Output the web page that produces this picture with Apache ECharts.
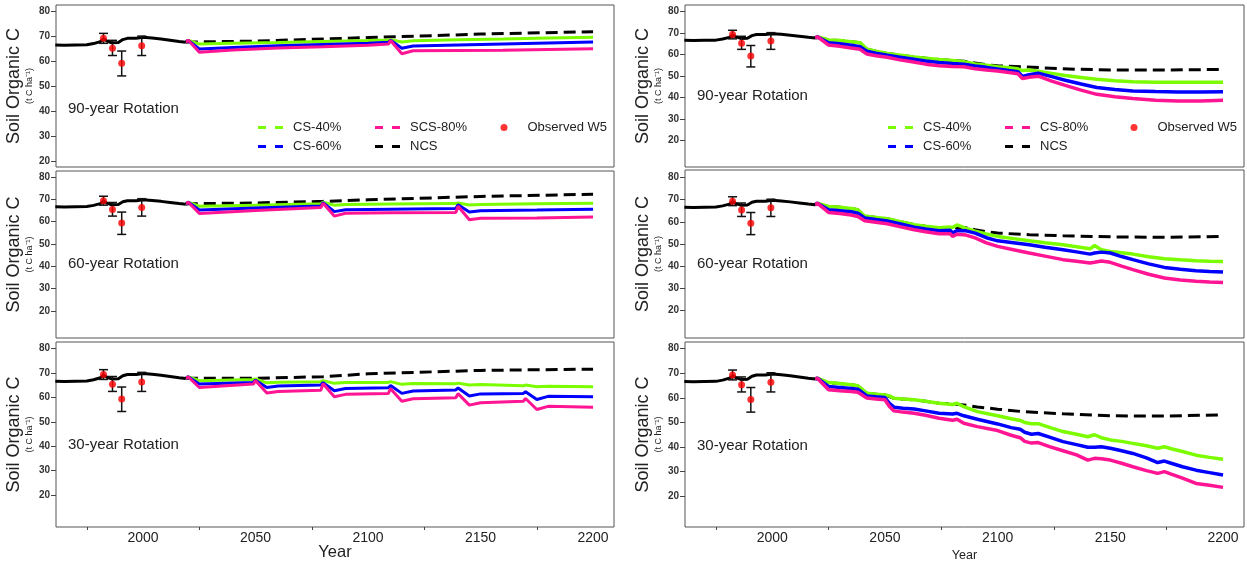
<!DOCTYPE html>
<html><head><meta charset="utf-8">
<script src="https://cdn.jsdelivr.net/npm/echarts@6/dist/echarts.min.js"></script>
<style>html,body{margin:0;padding:0;background:#fff}#c{width:1247px;height:565px}</style>
</head><body><div id="c"></div>
<script>
// ---------- tick labels ----------
const yTicks = [20, 30, 40, 50, 60, 70, 80];
const xLabelTicks = [2000, 2050, 2100, 2150, 2200];
const xMinorTicks = [1975, 2025, 2075, 2125, 2175];

// ---------- historical simulation (shared) ----------
const histYears = [1961, 1965, 1970, 1975, 1978, 1981, 1982.5, 1984, 1986, 1989, 1991, 1993, 1997, 2000, 2004, 2008, 2012, 2016, 2019];
const histSOC   = [66.6, 66.5, 66.6, 66.7, 67.2, 68.0, 69.0, 68.2, 67.5, 67.6, 68.8, 69.3, 69.3, 69.7, 69.4, 69.0, 68.5, 68.0, 67.7];

// ---------- observed W5 ----------
const obsYears = [1982.4, 1986.4, 1990.5, 1999.4];
const obsMean  = [69.3, 65.3, 59.3, 66.3];
const obsLow   = [67.3, 62.4, 54.2, 62.4];
const obsHigh  = [71.3, 68.5, 64.2, 70.2];

// ---------- left column, 90-year rotation ----------
const leftR90Years = [2019, 2020, 2025, 2040, 2060, 2080, 2100, 2109, 2110, 2115, 2120, 2140, 2160, 2180, 2200];
const leftR90CS40  = [67.7, 68.6, 67.0, 67.3, 67.6, 68.0, 68.4, 68.6, 68.8, 67.8, 68.3, 68.7, 69.0, 69.4, 69.7];
const leftR90CS60  = [67.7, 68.6, 65.0, 65.6, 66.3, 66.8, 67.3, 67.7, 68.5, 65.3, 66.2, 66.6, 67.0, 67.4, 67.8];
const leftR90SCS80 = [67.7, 68.6, 63.7, 64.6, 65.4, 65.9, 66.5, 67.0, 68.4, 63.1, 64.3, 64.4, 64.5, 64.8, 65.1];
const leftR90NCSYears = [2019, 2020, 2050, 2100, 2150, 2200];
const leftR90NCS      = [67.7, 67.8, 68.2, 69.6, 71.0, 72.0];

// ---------- left column, 60-year rotation ----------
const leftR60Years = [2019, 2020, 2025, 2050, 2079, 2080, 2085, 2090, 2110, 2139, 2140, 2145, 2150, 2175, 2200];
const leftR60CS40  = [67.7, 68.7, 66.8, 67.3, 67.9, 68.6, 67.3, 67.6, 67.8, 68.0, 68.3, 67.4, 67.6, 67.9, 68.2];
const leftR60CS60  = [67.7, 68.7, 65.1, 66.0, 66.9, 68.4, 64.4, 65.2, 65.5, 65.8, 67.5, 64.2, 64.8, 65.1, 65.5];
const leftR60SCS80 = [67.7, 68.7, 63.6, 64.9, 66.2, 68.2, 62.4, 63.7, 63.9, 64.0, 66.8, 60.8, 61.4, 61.6, 62.0];
const leftR60NCSYears = [2019, 2020, 2050, 2080, 2100, 2150, 2200];
const leftR60NCS      = [67.7, 67.9, 68.3, 69.0, 69.7, 71.2, 72.2];

// ---------- left column, 30-year rotation ----------
const leftR30Years = [2019, 2020, 2025, 2049, 2050, 2055, 2060, 2079, 2080, 2085, 2090, 2109, 2110, 2115, 2120, 2139, 2140, 2145, 2150, 2169, 2170, 2175, 2180, 2200];
const leftR30CS40  = [67.7, 68.4, 66.8, 67.3, 67.5, 65.9, 66.2, 66.4, 66.8, 65.7, 66.0, 66.1, 66.4, 65.3, 65.6, 65.5, 65.8, 65.0, 65.2, 64.7, 65.0, 64.3, 64.5, 64.3];
const leftR30CS60  = [67.7, 68.4, 65.4, 66.1, 67.0, 64.0, 64.6, 65.0, 66.0, 62.7, 63.6, 63.9, 64.8, 61.6, 62.6, 63.0, 63.8, 60.5, 61.4, 61.6, 62.3, 59.1, 60.4, 60.2];
const leftR30SCS80 = [67.7, 68.4, 64.0, 65.4, 66.8, 61.8, 62.4, 62.9, 65.5, 60.2, 61.2, 61.6, 63.5, 58.4, 59.4, 59.8, 61.5, 56.8, 57.8, 58.4, 59.5, 55.0, 56.3, 55.9];
const leftR30NCSYears = [2019, 2020, 2050, 2080, 2100, 2150, 2200];
const leftR30NCS      = [67.7, 67.8, 67.8, 68.4, 69.6, 71.0, 71.5];

// ---------- right column, 90-year rotation ----------
const rightR90Years = [2019, 2020, 2025, 2030, 2035, 2039, 2042, 2046, 2051, 2056, 2062, 2068, 2074, 2080, 2085, 2090, 2095, 2100, 2105, 2109, 2111, 2114, 2118, 2124, 2130, 2137, 2144, 2152, 2160, 2170, 2180, 2190, 2200];
const rightR90CS40  = [67.7, 68.3, 66.8, 66.5, 66.0, 65.5, 62.5, 61.5, 60.5, 59.8, 58.9, 58.3, 57.7, 57.2, 56.6, 55.6, 55.0, 54.3, 53.8, 53.3, 52.5, 52.8, 52.2, 51.2, 50.2, 49.3, 48.4, 47.7, 47.3, 47.0, 47.0, 47.0, 47.0];
const rightR90CS60  = [67.7, 68.3, 65.5, 65.0, 64.3, 63.6, 61.5, 60.6, 59.7, 58.8, 57.9, 57.0, 56.3, 55.8, 55.5, 54.6, 54.0, 53.2, 52.5, 52.0, 49.8, 50.6, 51.3, 49.7, 48.0, 46.2, 44.6, 43.7, 43.0, 42.7, 42.5, 42.5, 42.6];
const rightR90CS80  = [67.7, 68.3, 64.4, 63.8, 63.0, 62.4, 60.2, 59.4, 58.7, 57.6, 56.6, 55.5, 54.7, 54.4, 54.3, 53.3, 52.8, 52.3, 51.6, 51.0, 48.8, 49.4, 49.9, 47.6, 45.6, 43.4, 41.4, 40.3, 39.5, 38.7, 38.3, 38.3, 38.7];
const rightR90NCSYears = [2019, 2020, 2025, 2030, 2035, 2039, 2042, 2046, 2051, 2056, 2062, 2068, 2074, 2080, 2085, 2090, 2095, 2100, 2110, 2120, 2135, 2150, 2175, 2200];
const rightR90NCS      = [67.7, 67.9, 66.8, 66.5, 66.0, 65.5, 62.5, 61.5, 60.5, 59.8, 58.9, 58.3, 57.7, 57.2, 56.9, 56.0, 55.2, 54.7, 54.3, 53.8, 53.1, 52.8, 52.8, 53.0];

// ---------- right column, 60-year rotation ----------
const rightR60Years = [2019, 2020, 2025, 2030, 2035, 2038, 2041, 2046, 2051, 2057, 2063, 2068, 2074, 2079, 2080, 2082, 2086, 2090, 2095, 2100, 2107, 2114, 2121, 2129, 2135, 2141, 2143, 2146, 2150, 2155, 2160, 2167, 2174, 2181, 2188, 2194, 2200];
const rightR60CS40  = [67.7, 68.4, 66.9, 66.6, 66.0, 65.4, 62.6, 62.0, 61.4, 60.0, 58.7, 58.0, 57.3, 57.6, 57.4, 58.6, 57.0, 55.8, 54.5, 53.4, 52.4, 51.4, 50.5, 49.6, 48.7, 47.8, 49.3, 47.4, 46.6, 46.0, 45.4, 44.2, 43.3, 42.8, 42.4, 42.2, 42.1];
const rightR60CS60  = [67.7, 68.4, 65.4, 65.0, 64.5, 63.9, 61.7, 61.0, 60.4, 59.0, 57.6, 56.8, 56.0, 56.2, 54.9, 56.0, 55.9, 54.9, 52.8, 51.4, 50.5, 49.6, 48.5, 47.4, 46.4, 45.4, 45.9, 46.3, 45.9, 44.3, 42.9, 41.0, 39.4, 38.6, 37.9, 37.5, 37.3];
const rightR60CS80  = [67.7, 68.4, 64.2, 63.7, 63.1, 62.4, 60.5, 59.8, 59.1, 57.7, 56.4, 55.5, 54.6, 54.6, 53.4, 54.4, 54.0, 52.7, 50.5, 48.9, 47.4, 45.9, 44.5, 42.9, 42.2, 41.4, 41.7, 42.3, 41.7, 40.0, 38.4, 36.3, 34.6, 33.7, 33.1, 32.8, 32.6];
const rightR60NCSYears = [2019, 2020, 2025, 2030, 2035, 2038, 2041, 2046, 2051, 2057, 2063, 2068, 2074, 2080, 2086, 2090, 2095, 2100, 2114, 2129, 2150, 2175, 2200];
const rightR60NCS      = [67.7, 67.9, 66.9, 66.6, 66.0, 65.4, 62.6, 62.0, 61.4, 60.0, 58.7, 58.0, 57.3, 57.4, 57.3, 56.4, 55.5, 54.9, 54.2, 53.7, 53.2, 53.0, 53.4];

// ---------- right column, 30-year rotation ----------
const rightR30Years = [2019, 2020, 2025, 2030, 2035, 2038, 2042, 2046, 2050, 2052, 2054, 2058, 2063, 2068, 2074, 2080, 2082, 2085, 2091, 2100, 2106, 2110, 2112, 2115, 2118, 2123, 2129, 2135, 2140, 2143, 2146, 2150, 2155, 2160, 2166, 2171, 2174, 2177, 2182, 2188, 2194, 2200];
const rightR30CS40  = [67.7, 68.0, 66.2, 65.8, 65.3, 64.9, 61.9, 61.5, 61.2, 60.8, 59.8, 59.5, 59.2, 58.6, 57.8, 57.3, 57.8, 56.4, 54.4, 52.7, 51.5, 50.8, 50.0, 49.5, 49.5, 48.0, 46.3, 45.2, 44.2, 45.0, 43.8, 42.9, 42.3, 41.5, 40.5, 39.5, 40.1, 39.3, 38.2, 36.7, 35.8, 35.0];
const rightR30CS60  = [67.7, 68.0, 64.6, 64.2, 63.8, 63.5, 60.8, 60.4, 60.1, 57.8, 56.2, 55.8, 55.5, 54.7, 53.7, 53.4, 53.7, 52.7, 51.3, 49.4, 47.9, 47.2, 46.0, 45.2, 45.5, 44.0, 42.2, 41.0, 39.9, 39.9, 40.1, 39.5, 38.5, 37.4, 35.6, 33.7, 34.3, 33.4, 32.0, 30.6, 29.6, 28.6];
const rightR30CS80  = [67.7, 68.0, 63.3, 62.9, 62.6, 62.3, 59.9, 59.5, 59.2, 56.5, 54.7, 54.2, 53.7, 52.9, 51.7, 50.9, 51.3, 49.7, 48.3, 46.7, 44.8, 43.8, 42.3, 41.6, 41.8, 40.2, 38.5, 36.8, 34.7, 35.4, 35.2, 34.7, 33.4, 32.0, 30.4, 29.3, 30.0, 29.0, 27.4, 25.2, 24.5, 23.6];
const rightR30NCSYears = [2019, 2020, 2025, 2030, 2035, 2038, 2042, 2046, 2050, 2054, 2058, 2063, 2068, 2074, 2080, 2085, 2091, 2100, 2111, 2129, 2150, 2175, 2200];
const rightR30NCS      = [67.7, 67.9, 66.2, 65.8, 65.3, 64.9, 61.9, 61.5, 61.2, 59.8, 59.5, 59.2, 58.6, 57.8, 57.6, 57.1, 56.3, 55.4, 54.4, 53.5, 52.7, 52.6, 53.1];

// ---------- build ----------
const zip = (xs, ys) => xs.map((x, i) => [x, ys[i]]);
const C_GREEN = '#7CFC00', C_BLUE = '#0000FF', C_PINK = '#FF1493';
const FONT = 'Liberation Sans, Arial, sans-serif';

const panels = [
  {grid: {left: 56, top: 5, width: 558, height: 162}, ymin: 17.6, ymax: 82.7, bottom: false, label: '90-year Rotation', lx: 68, ly: 110,
   years: leftR90Years, g: leftR90CS40, b: leftR90CS60, p: leftR90SCS80, ny: leftR90NCSYears, n: leftR90NCS, pname: 'SCS-80%', lw: 3},
  {grid: {left: 56, top: 171, width: 558, height: 167}, ymin: 7.8, ymax: 82.6, bottom: false, label: '60-year Rotation', lx: 68, ly: 265,
   years: leftR60Years, g: leftR60CS40, b: leftR60CS60, p: leftR60SCS80, ny: leftR60NCSYears, n: leftR60NCS, pname: 'SCS-80%', lw: 3},
  {grid: {left: 56, top: 342, width: 558, height: 185}, ymin: 7.0, ymax: 82.6, bottom: true, yearSize: 16.5, yearGap: 17, label: '30-year Rotation', lx: 68, ly: 446,
   years: leftR30Years, g: leftR30CS40, b: leftR30CS60, p: leftR30SCS80, ny: leftR30NCSYears, n: leftR30NCS, pname: 'SCS-80%', lw: 3},
  {grid: {left: 685, top: 5, width: 559, height: 162}, ymin: 7.5, ymax: 83.1, bottom: false, label: '90-year Rotation', lx: 697, ly: 97,
   years: rightR90Years, g: rightR90CS40, b: rightR90CS60, p: rightR90CS80, ny: rightR90NCSYears, n: rightR90NCS, pname: 'CS-80%', lw: 3.5},
  {grid: {left: 685, top: 170, width: 559, height: 168}, ymin: 7.5, ymax: 83.4, bottom: false, label: '60-year Rotation', lx: 697, ly: 265,
   years: rightR60Years, g: rightR60CS40, b: rightR60CS60, p: rightR60CS80, ny: rightR60NCSYears, n: rightR60NCS, pname: 'CS-80%', lw: 3.5},
  {grid: {left: 685, top: 342, width: 559, height: 185}, ymin: 7.5, ymax: 82.7, bottom: true, yearSize: 12.5, yearGap: 22, label: '30-year Rotation', lx: 697, ly: 447,
   years: rightR30Years, g: rightR30CS40, b: rightR30CS60, p: rightR30CS80, ny: rightR30NCSYears, n: rightR30NCS, pname: 'CS-80%', lw: 3.5}
];

const grids = [], xAxes = [], yAxes = [], series = [], graphics = [];
panels.forEach((P, i) => {
  grids.push(Object.assign({show: true, borderColor: '#555', borderWidth: 1, backgroundColor: 'transparent', outerBoundsMode: 'none'}, P.grid));
  xAxes.push({
    type: 'value', gridIndex: i, min: 1961.3, max: 2209.3,
    axisLine: {show: false}, splitLine: {show: false},
    axisTick: {show: P.bottom, customValues: xMinorTicks, length: 3, lineStyle: {color: '#444'}},
    axisLabel: {show: P.bottom, customValues: xLabelTicks, fontSize: 14, color: '#222', margin: 4, fontFamily: FONT,
      formatter: v => String(v)},
    name: P.bottom ? 'Year' : '', nameLocation: 'middle', nameGap: P.yearGap || 0, nameMoveOverlap: false,
    nameTextStyle: {fontSize: P.yearSize || 12, color: '#222', fontFamily: FONT}
  });
  yAxes.push({
    type: 'value', gridIndex: i, min: P.ymin, max: P.ymax,
    axisLine: {show: false}, splitLine: {show: false},
    axisTick: {show: true, customValues: yTicks, length: 5, lineStyle: {color: '#444'}},
    axisLabel: {customValues: yTicks, fontSize: 10, fontWeight: 'bold', color: '#333', margin: 6, fontFamily: FONT,
      formatter: v => String(v)},
    name: 'Soil Organic C\n{u|(t C ha\u207B\u00B9)}', nameLocation: 'middle', nameRotate: 90, nameGap: 19, nameMoveOverlap: false,
    nameTextStyle: {fontSize: 18, lineHeight: 18, color: '#222', fontFamily: FONT,
      rich: {u: {fontSize: 9, lineHeight: 14, color: '#222', fontFamily: FONT}}}
  });
  const base = {type: 'line', xAxisIndex: i, yAxisIndex: i, symbol: 'none', showSymbol: false, animation: false, clip: true};
  series.push(Object.assign({}, base, {name: 'NCS', data: zip(P.ny, P.n), z: 2,
    itemStyle: {color: '#000'}, lineStyle: {color: '#000', width: 3, type: [12, 6]}}));
  series.push(Object.assign({}, base, {name: 'CS-40%', data: zip(P.years, P.g), z: 3,
    itemStyle: {color: C_GREEN}, lineStyle: {color: C_GREEN, width: P.lw}}));
  series.push(Object.assign({}, base, {name: 'CS-60%', data: zip(P.years, P.b), z: 4,
    itemStyle: {color: C_BLUE}, lineStyle: {color: C_BLUE, width: P.lw}}));
  series.push(Object.assign({}, base, {name: P.pname, data: zip(P.years, P.p), z: 5,
    itemStyle: {color: C_PINK}, lineStyle: {color: C_PINK, width: P.lw}}));
  series.push(Object.assign({}, base, {name: 'Historical', data: zip(histYears, histSOC), z: 6,
    itemStyle: {color: '#000'}, lineStyle: {color: '#000', width: 3}}));
  series.push({
    type: 'custom', name: 'Observed W5 error', xAxisIndex: i, yAxisIndex: i, z: 7, animation: false,
    data: obsYears.map((x, k) => [x, obsLow[k], obsHigh[k]]),
    encode: {x: 0, y: [1, 2]},
    renderItem: function (params, api) {
      const x = api.value(0), lo = api.coord([x, api.value(1)]), hi = api.coord([x, api.value(2)]);
      const w = 4.5, st = {stroke: '#111', lineWidth: 1.5};
      return {type: 'group', children: [
        {type: 'line', shape: {x1: lo[0], y1: lo[1], x2: hi[0], y2: hi[1]}, style: st},
        {type: 'line', shape: {x1: lo[0] - w, y1: lo[1], x2: lo[0] + w, y2: lo[1]}, style: st},
        {type: 'line', shape: {x1: hi[0] - w, y1: hi[1], x2: hi[0] + w, y2: hi[1]}, style: st}
      ]};
    }
  });
  series.push({type: 'scatter', name: 'Observed W5', xAxisIndex: i, yAxisIndex: i, z: 8, animation: false,
    symbolSize: 7, itemStyle: {color: '#FF0000'}, data: zip(obsYears, obsMean)});
  graphics.push({type: 'text', left: P.lx, top: P.ly - 9,
    style: {text: P.label, fontSize: 15, fill: '#222', fontFamily: FONT}});
});

// legends (top-left and top-right panels)
const dashIcon = 'path://M0,0h8v3h-8zM17,0h8v3h-8z';
const legendItems = [
  {name: 'CS-40%', x: 258, y: 128, dash: true}, {name: 'CS-60%', x: 258, y: 147, dash: true},
  {name: 'SCS-80%', x: 375, y: 128, dash: true}, {name: 'NCS', x: 375, y: 147, dash: true},
  {name: 'Observed W5', x: 500.5, y: 128, dash: false},
  {name: 'CS-40%', x: 888, y: 128, dash: true}, {name: 'CS-60%', x: 888, y: 147, dash: true},
  {name: 'CS-80%', x: 1005, y: 128, dash: true}, {name: 'NCS', x: 1005, y: 147, dash: true},
  {name: 'Observed W5', x: 1130.5, y: 128, dash: false}
];
const legends = legendItems.map(L => ({
  data: [{name: L.name, icon: L.dash ? dashIcon : 'circle'}],
  left: L.x, top: L.y - 7, padding: 0, orient: 'horizontal',
  itemWidth: L.dash ? 25 : 7, itemHeight: L.dash ? 3 : 7,
  itemStyle: {borderWidth: 0},
  selectedMode: false,
  textStyle: {fontSize: 13, color: '#222', fontFamily: FONT, padding: [0, 0, 0, L.dash ? 5 : 15]}
}));

const chart = echarts.init(document.getElementById('c'), null, {renderer: 'canvas'});
chart.setOption({
  backgroundColor: '#fff', animation: false,
  grid: grids, xAxis: xAxes, yAxis: yAxes, series: series, legend: legends, graphic: graphics
});
</script></body></html>
